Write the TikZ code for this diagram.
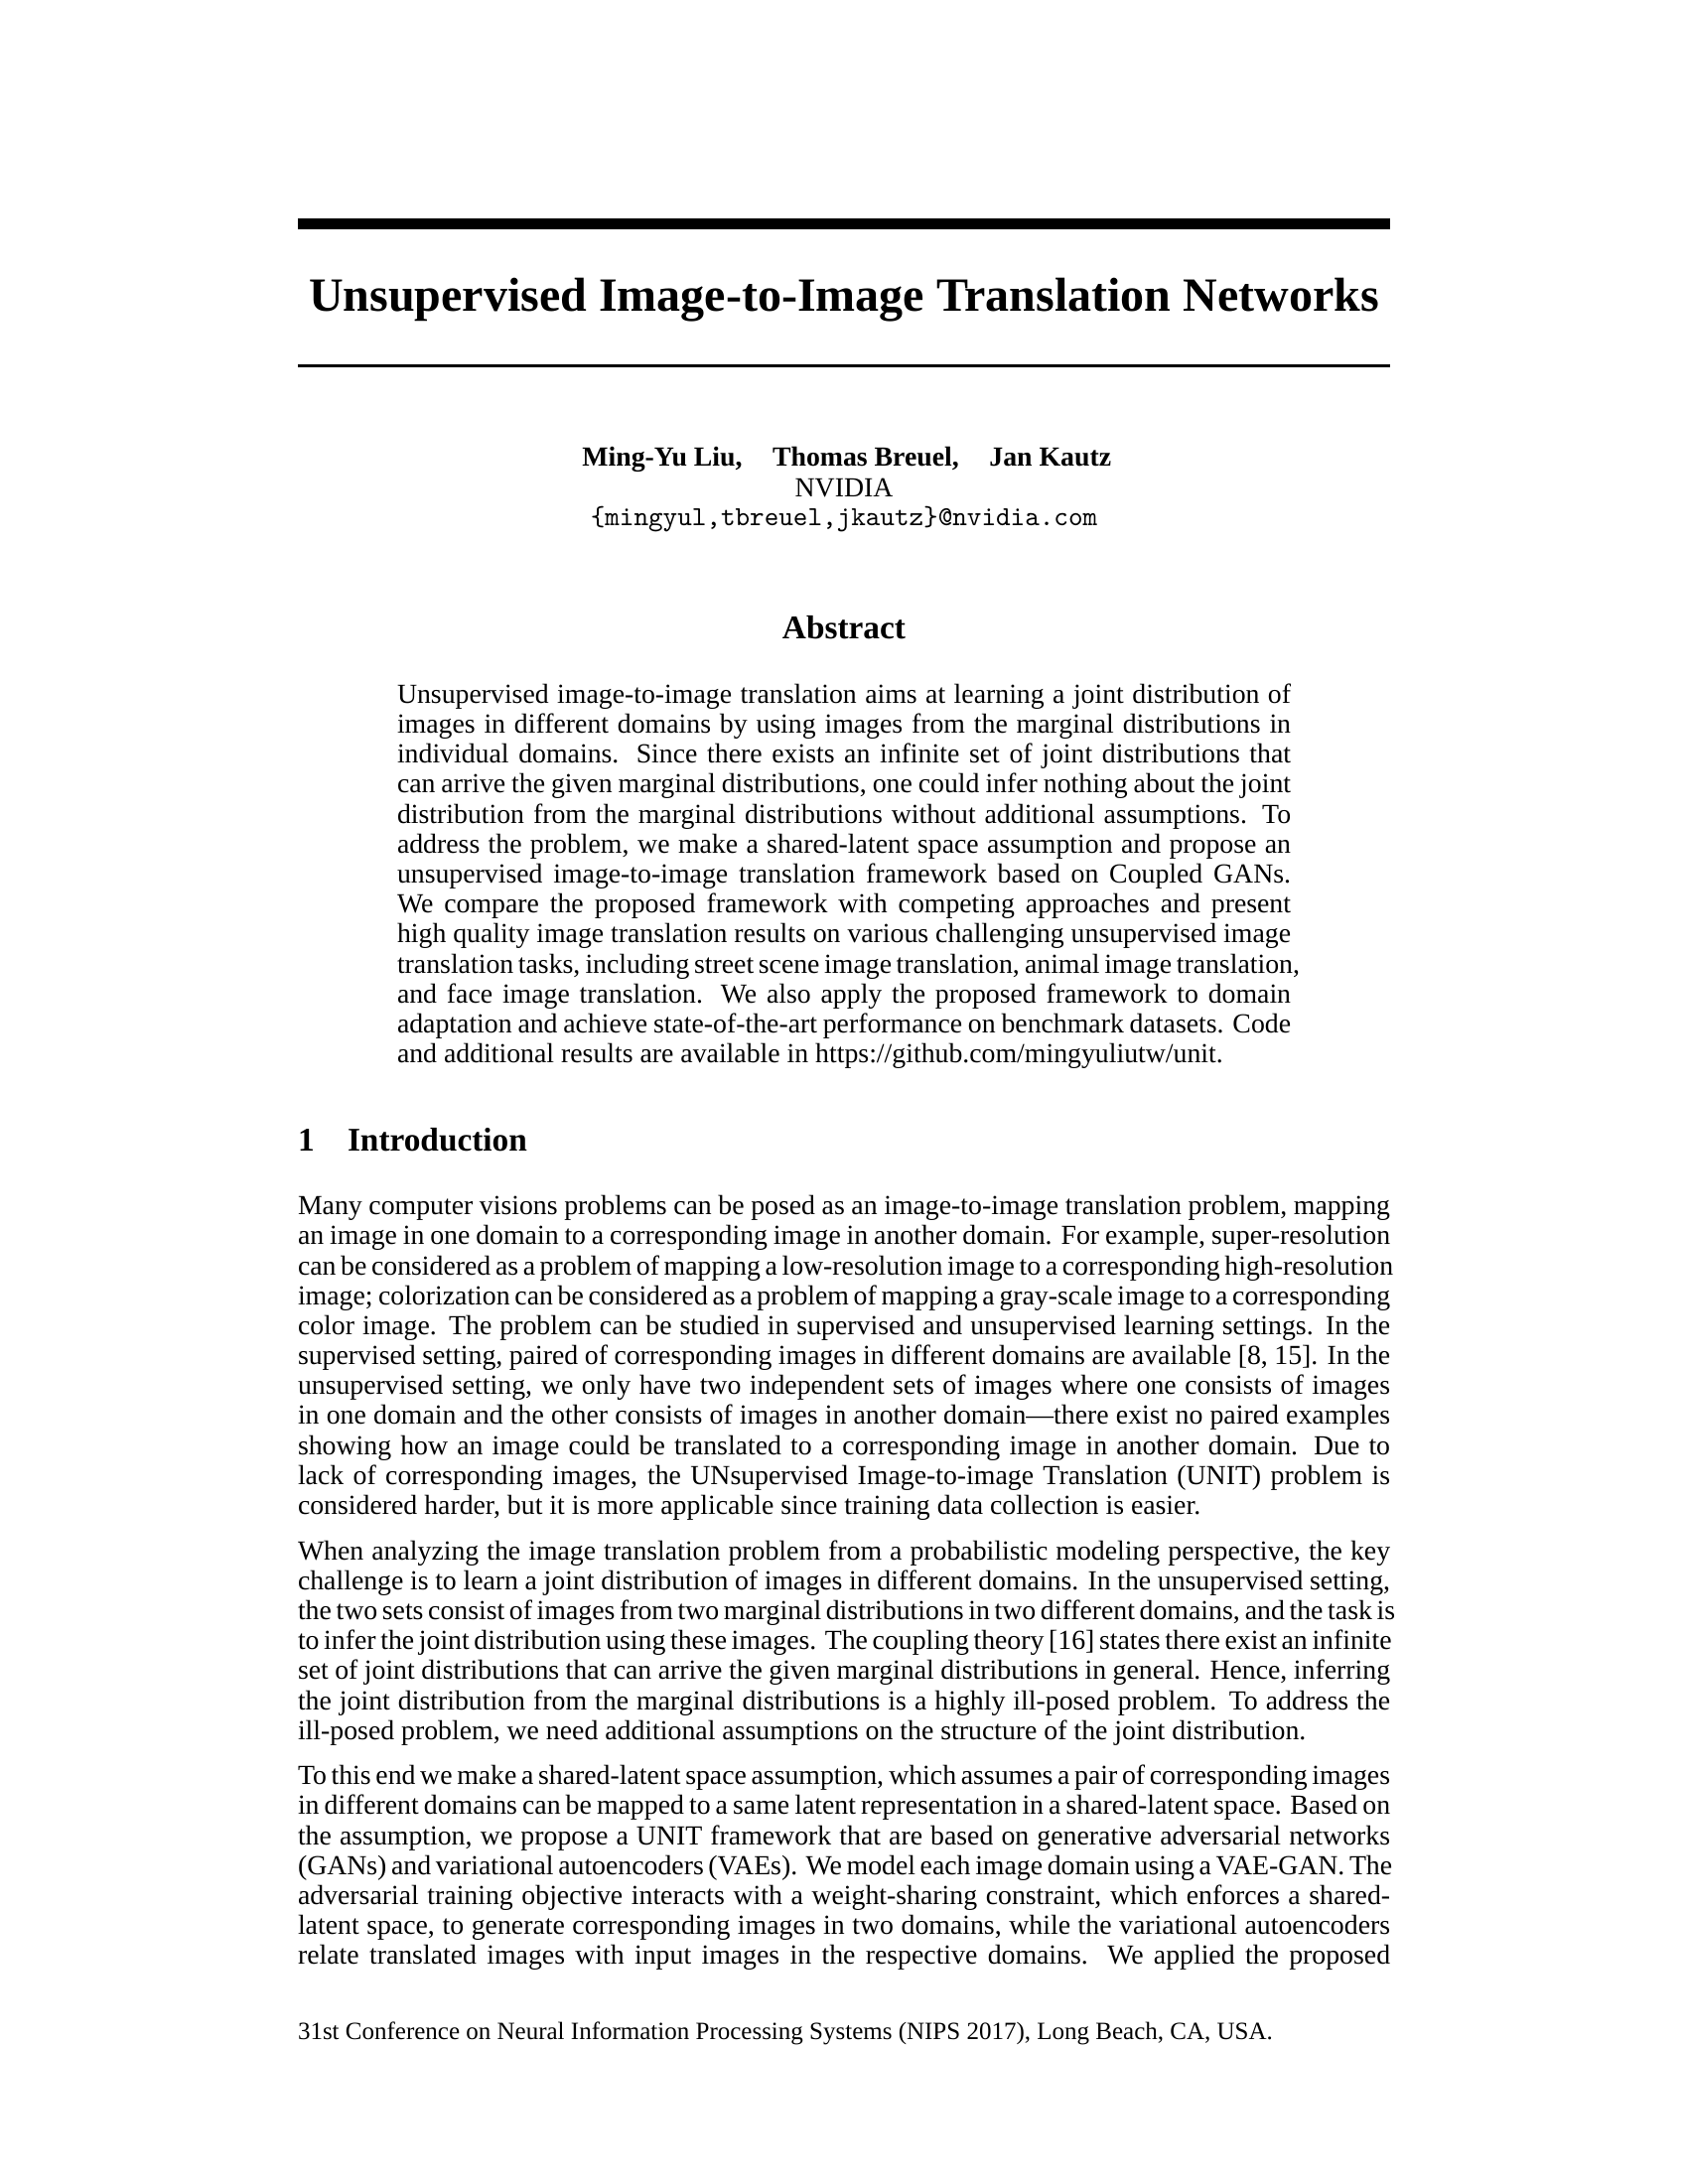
\documentclass[tikz,border=0pt]{standalone}
\usepackage{fontspec}
\setmainfont{Liberation Serif}
\tikzset{
  txt/.style={anchor=base west, inner sep=0pt, outer sep=0pt, font=\fontsize{10pt}{11pt}\selectfont},
  ctxt/.style={anchor=base, inner sep=0pt, outer sep=0pt},
  rulebar/.style={fill=black, draw=none}
}
\newcommand\AL[1]{\makebox[324pt][s]{#1}}
\newcommand\BL[1]{\makebox[396pt][s]{#1}}
\begin{document}
\begin{tikzpicture}[x=1pt,y=1pt]
\useasboundingbox (0,0) rectangle (612,-792);
\fill[white] (0,0) rectangle (612,-792);
% title bars
\fill[rulebar] (108,-79.2) rectangle (504,-83.2);
\node[ctxt, font=\fontsize{17.28pt}{22pt}\selectfont\bfseries] (title) at (306,-113) {Unsupervised Image-to-Image Translation Networks};
\fill[rulebar] (108,-132.2) rectangle (504,-133.2);
% authors
\node[ctxt, font=\fontsize{10pt}{11pt}\selectfont\bfseries] (auth) at (307,-169) {Ming-Yu Liu,\hspace{11pt}Thomas Breuel,\hspace{11pt}Jan Kautz};
\node[ctxt, font=\fontsize{10pt}{11pt}\selectfont] (aff) at (306,-180) {NVIDIA};
\node[ctxt, font=\fontsize{10pt}{11pt}\selectfont\ttfamily] (mail) at (306,-190.5) {\{mingyul,tbreuel,jkautz\}@nvidia.com};
% abstract
\node[ctxt, font=\fontsize{12pt}{14pt}\selectfont\bfseries] (abshead) at (306,-231.6) {Abstract};
\node[txt] (a1) at (144,-255) {\AL{Unsupervised image-to-image translation aims at learning a joint distribution of}};
\node[txt] (a2) at (144,-265.87) {\AL{images in different domains by using images from the marginal distributions in}};
\node[txt] (a3) at (144,-276.74) {\AL{individual domains.  Since there exists an infinite set of joint distributions that}};
\node[txt] (a4) at (144,-287.61) {\AL{can arrive the given marginal distributions, one could infer nothing about the joint}};
\node[txt] (a5) at (144,-298.48) {\AL{distribution from the marginal distributions without additional assumptions. To}};
\node[txt] (a6) at (144,-309.35) {\AL{address the problem, we make a shared-latent space assumption and propose an}};
\node[txt] (a7) at (144,-320.22) {\AL{unsupervised image-to-image translation framework based on Coupled GANs.}};
\node[txt] (a8) at (144,-331.09) {\AL{We compare the proposed framework with competing approaches and present}};
\node[txt] (a9) at (144,-341.96) {\AL{high quality image translation results on various challenging unsupervised image}};
\node[txt] (a10) at (144,-352.83) {\AL{translation tasks, including street scene image translation, animal image translation,}};
\node[txt] (a11) at (144,-363.7) {\AL{and face image translation.  We also apply the proposed framework to domain}};
\node[txt] (a12) at (144,-374.57) {\AL{adaptation and achieve state-of-the-art performance on benchmark datasets. Code}};
\node[txt] (a13) at (144,-385.44) {and additional results are available in https://github.com/mingyuliutw/unit.};
% section heading
\node[txt, font=\fontsize{12pt}{14pt}\selectfont\bfseries] (secnum) at (108,-417.5) {1};
\node[txt, font=\fontsize{12pt}{14pt}\selectfont\bfseries] (sectitle) at (126,-417.5) {Introduction};
% paragraph 1
\node[txt] (p1l1) at (108,-440.5) {\BL{Many computer visions problems can be posed as an image-to-image translation problem, mapping}};
\node[txt] (p1l2) at (108,-451.37) {\BL{an image in one domain to a corresponding image in another domain. For example, super-resolution}};
\node[txt] (p1l3) at (108,-462.24) {\BL{can be considered as a problem of mapping a low-resolution image to a corresponding high-resolution}};
\node[txt] (p1l4) at (108,-473.11) {\BL{image; colorization can be considered as a problem of mapping a gray-scale image to a corresponding}};
\node[txt] (p1l5) at (108,-483.98) {\BL{color image. The problem can be studied in supervised and unsupervised learning settings. In the}};
\node[txt] (p1l6) at (108,-494.85) {\BL{supervised setting, paired of corresponding images in different domains are available [8, 15]. In the}};
\node[txt] (p1l7) at (108,-505.72) {\BL{unsupervised setting, we only have two independent sets of images where one consists of images}};
\node[txt] (p1l8) at (108,-516.59) {\BL{in one domain and the other consists of images in another domain---there exist no paired examples}};
\node[txt] (p1l9) at (108,-527.46) {\BL{showing how an image could be translated to a corresponding image in another domain.  Due to}};
\node[txt] (p1l10) at (108,-538.33) {\BL{lack of corresponding images, the UNsupervised Image-to-image Translation (UNIT) problem is}};
\node[txt] (p1l11) at (108,-549.2) {considered harder, but it is more applicable since training data collection is easier.};
% paragraph 2
\node[txt] (p2l1) at (108,-565.6) {\BL{When analyzing the image translation problem from a probabilistic modeling perspective, the key}};
\node[txt] (p2l2) at (108,-576.47) {\BL{challenge is to learn a joint distribution of images in different domains. In the unsupervised setting,}};
\node[txt] (p2l3) at (108,-587.34) {\BL{the two sets consist of images from two marginal distributions in two different domains, and the task is}};
\node[txt] (p2l4) at (108,-598.21) {\BL{to infer the joint distribution using these images. The coupling theory [16] states there exist an infinite}};
\node[txt] (p2l5) at (108,-609.08) {\BL{set of joint distributions that can arrive the given marginal distributions in general. Hence, inferring}};
\node[txt] (p2l6) at (108,-619.95) {\BL{the joint distribution from the marginal distributions is a highly ill-posed problem. To address the}};
\node[txt] (p2l7) at (108,-630.82) {ill-posed problem, we need additional assumptions on the structure of the joint distribution.};
% paragraph 3
\node[txt] (p3l1) at (108,-647.2) {\BL{To this end we make a shared-latent space assumption, which assumes a pair of corresponding images}};
\node[txt] (p3l2) at (108,-658.07) {\BL{in different domains can be mapped to a same latent representation in a shared-latent space. Based on}};
\node[txt] (p3l3) at (108,-668.94) {\BL{the assumption, we propose a UNIT framework that are based on generative adversarial networks}};
\node[txt] (p3l4) at (108,-679.81) {\BL{(GANs) and variational autoencoders (VAEs). We model each image domain using a VAE-GAN. The}};
\node[txt] (p3l5) at (108,-690.68) {\BL{adversarial training objective interacts with a weight-sharing constraint, which enforces a shared-}};
\node[txt] (p3l6) at (108,-701.55) {\BL{latent space, to generate corresponding images in two domains, while the variational autoencoders}};
\node[txt] (p3l7) at (108,-712.42) {\BL{relate translated images with input images in the respective domains.  We applied the proposed}};
% footer notice
\node[txt, font=\fontsize{9pt}{11pt}\selectfont] (notice) at (108,-739.6) {31st Conference on Neural Information Processing Systems (NIPS 2017), Long Beach, CA, USA.};
\end{tikzpicture}
\end{document}
